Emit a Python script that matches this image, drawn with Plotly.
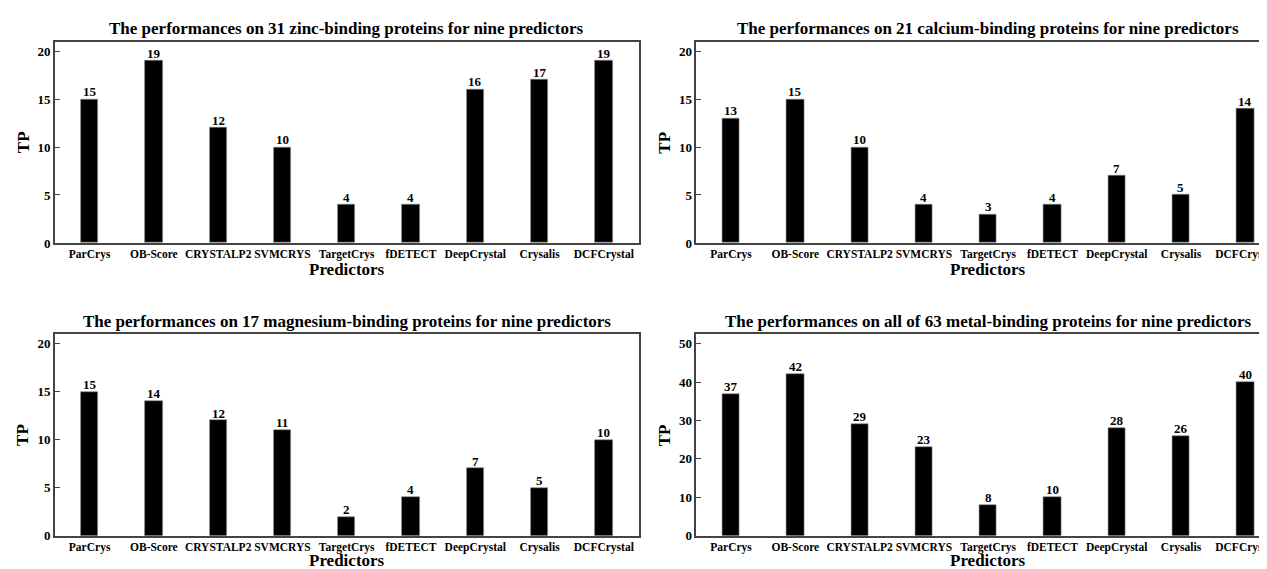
import plotly.graph_objects as go

predictors = ["ParCrys", "OB-Score", "CRYSTALP2", "SVMCRYS", "TargetCrys",
              "fDETECT", "DeepCrystal", "Crysalis", "DCFCrystal"]
zinc = [15, 19, 12, 10, 4, 4, 16, 17, 19]
calcium = [13, 15, 10, 4, 3, 4, 7, 5, 14]
magnesium = [15, 14, 12, 11, 2, 4, 7, 5, 10]
all_metal = [37, 42, 29, 23, 8, 10, 28, 26, 40]

titles = [
    "The performances on 31 zinc-binding proteins for nine predictors",
    "The performances on 21 calcium-binding proteins for nine predictors",
    "The performances on 17 magnesium-binding proteins for nine predictors",
    "The performances on all of 63 metal-binding proteins for nine predictors",
]
series = [zinc, calcium, magnesium, all_metal]
ymaxes = [21, 21, 21, 52.5]
yticks = [[0, 5, 10, 15, 20], [0, 5, 10, 15, 20], [0, 5, 10, 15, 20], [0, 10, 20, 30, 40, 50]]

W, H = 1267, 569
FONT = "Liberation Serif, Times New Roman, serif"

# pixel geometry of the panels
lefts = [47, 690, 47, 690]
full_w = 585
tops = [34, 34, 330.7, 330.7]
bottoms = [238.3, 238.3, 535.3, 535.3]
xr0 = -0.54
unit = full_w / 9.08

fig = go.Figure()
annotations = []
for i in range(4):
    ax = "" if i == 0 else str(i + 1)
    left = lefts[i]
    right_full = left + full_w
    right = min(right_full, W)
    xr1 = xr0 + (right - left) / unit
    fig.add_trace(go.Bar(
        x=list(range(9)), y=series[i], width=0.27,
        marker=dict(color="black", line=dict(width=0.6, color="#888888")),
        showlegend=False, hoverinfo="x+y",
        xaxis="x" + ax, yaxis="y" + ax,
    ))
    for k, v in enumerate(series[i]):
        annotations.append(dict(text="<b>%d</b>" % v, x=k, y=v,
                                xref="x" + ax, yref="y" + ax, showarrow=False,
                                xanchor="center", yanchor="bottom", yshift=-2,
                                font=dict(family=FONT, size=13, color="black")))
    cut = right_full > W
    fig.layout["xaxis" + ax] = dict(
        domain=[left / W, right / W], range=[xr0, xr1],
        tickmode="array", tickvals=list(range(9)), ticktext=predictors,
        tickfont=dict(family=FONT, size=11.5, color="black", weight="bold"),
        ticklabeloverflow="allow",
        showline=True, linecolor="#444444", linewidth=1.5, mirror=True,
        ticks="", showgrid=False, zeroline=False, anchor="y" + ax,
    )
    fig.layout["yaxis" + ax] = dict(
        domain=[1 - bottoms[i] / H, 1 - tops[i] / H], range=[0, ymaxes[i]],
        tickmode="array", tickvals=yticks[i],
        tickfont=dict(family=FONT, size=13, color="black", weight="bold"),
        showline=True, linecolor="#444444", linewidth=1.5, mirror=(not cut),
        ticks="inside", ticklen=5, tickcolor="#444444", tickwidth=1.2,
        showgrid=False, zeroline=False, anchor="x" + ax,
    )
    cx = (left + right_full) / 2 / W
    ty = 21 if i < 2 else 318
    annotations.append(dict(text="<b>" + titles[i] + "</b>", x=cx, y=1 - ty / H,
                            xref="paper", yref="paper", showarrow=False,
                            xanchor="center", yanchor="middle",
                            font=dict(family=FONT, size=17, color="black")))
    py = 265 if i < 2 else 560
    annotations.append(dict(text="<b>Predictors</b>", x=cx, y=1 - py / H,
                            xref="paper", yref="paper", showarrow=False,
                            xanchor="center", yanchor="middle",
                            font=dict(family=FONT, size=17, color="black")))
    tpx = left - 32
    annotations.append(dict(text="<b>TP</b>", x=tpx / W,
                            y=1 - (tops[i] + bottoms[i]) / 2 / H,
                            xref="paper", yref="paper", showarrow=False,
                            xanchor="center", yanchor="middle", textangle=-90,
                            font=dict(family=FONT, size=17, color="black")))

fig.update_layout(
    width=W, height=H, margin=dict(l=0, r=0, t=0, b=0),
    paper_bgcolor="white", plot_bgcolor="white",
    annotations=annotations, bargap=0,
)
fig.write_html("out.html")
